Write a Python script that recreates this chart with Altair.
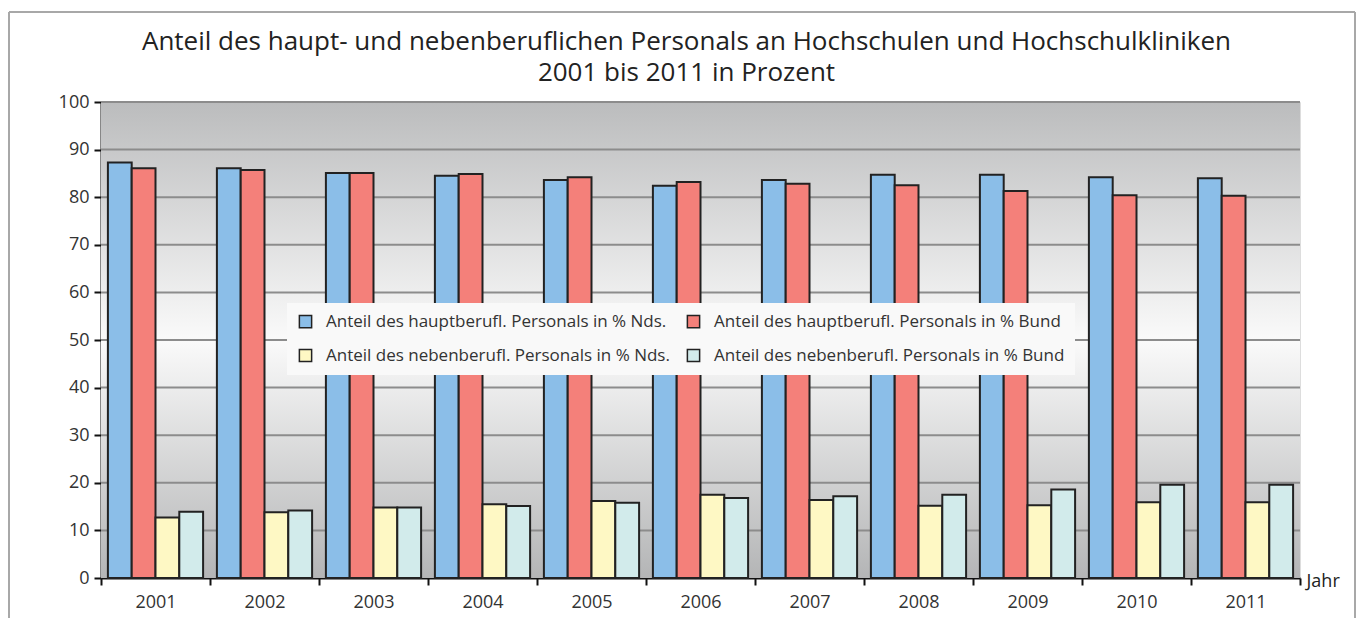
import altair as alt
import pandas as pd

years = ["2001", "2002", "2003", "2004", "2005", "2006", "2007", "2008", "2009", "2010", "2011"]
series = [
    "Anteil des hauptberufl. Personals in % Nds.",
    "Anteil des hauptberufl. Personals in % Bund",
    "Anteil des nebenberufl. Personals in % Nds.",
    "Anteil des nebenberufl. Personals in % Bund",
]
haupt_nds = [87.3, 86.1, 85.1, 84.5, 83.6, 82.4, 83.6, 84.7, 84.7, 84.2, 84.0]
haupt_bund = [86.1, 85.7, 85.1, 84.9, 84.2, 83.2, 82.8, 82.5, 81.3, 80.4, 80.3]
neben_nds = [12.7, 13.8, 14.8, 15.5, 16.2, 17.5, 16.4, 15.2, 15.3, 15.9, 15.9]
neben_bund = [13.9, 14.2, 14.8, 15.1, 15.8, 16.8, 17.2, 17.5, 18.6, 19.6, 19.6]
colors = ["#8bbee8", "#f4807a", "#fef8c4", "#d2ebeb"]
y_ticks = [10, 20, 30, 40, 50, 60, 70, 80, 90, 100]
title_lines = ["Anteil des haupt- und nebenberuflichen Personals an Hochschulen und Hochschulkliniken",
               "2001 bis 2011 in Prozent"]

values = [haupt_nds, haupt_bund, neben_nds, neben_bund]
rows = []
for s, vals in zip(series, values):
    for yr, v in zip(years, vals):
        rows.append({"Jahr": yr, "Serie": s, "Wert": v})
df = pd.DataFrame(rows)
grid_df = pd.DataFrame({"v": y_ticks})
one = pd.DataFrame({"a": [0]})
title1_df = pd.DataFrame({"t": [title_lines[0]]})
title2_df = pd.DataFrame({"t": [title_lines[1]]})

# legend is laid out column by column: order so rows read haupt / neben
legend_order = [series[0], series[2], series[1], series[3]]
legend_colors = [colors[0], colors[2], colors[1], colors[3]]

W, H = 1199, 476
FONT = "Open Sans"

yscale = alt.Scale(domain=[0, 100], nice=False, zero=True)
yaxis = alt.Axis(values=[0, 10, 20, 30, 40, 50, 60, 70, 80, 90, 100], grid=False,
                 domainColor="#111", domainWidth=2, tickColor="#111", tickWidth=2,
                 tickSize=7, labelPadding=5, labelFontSize=18, labelColor="#333",
                 labelFont=FONT, title=None)

bg = alt.Chart(one).mark_rect(
    fill=alt.Gradient(gradient="linear", x1=0, x2=0, y1=0, y2=1,
                      stops=[alt.GradientStop(offset=0, color="#bbbcbd"),
                             alt.GradientStop(offset=0.5, color="#fafafa"),
                             alt.GradientStop(offset=1, color="#b4b5b6")])
).encode(x=alt.value(0), x2=alt.value(W), y=alt.value(0), y2=alt.value(H))

grid = alt.Chart(grid_df).mark_rule(color="#8c8c8c", strokeWidth=2).encode(
    y=alt.Y("v:Q", scale=yscale, axis=yaxis),
    x=alt.value(0), x2=alt.value(W),
)

bars = alt.Chart(df).mark_bar(stroke="#222", strokeWidth=2, opacity=1).encode(
    x=alt.X("Jahr:N", sort=years,
            scale=alt.Scale(paddingInner=0, paddingOuter=0),
            axis=alt.Axis(tickBand="extent", labelAngle=0, domainColor="#111", domainWidth=2,
                          tickColor="#111", tickWidth=2, tickSize=7, labelPadding=8,
                          labelFontSize=18, labelColor="#333", labelFont=FONT,
                          title="Jahr", titleX=W + 6, titleY=3, titleAlign="left",
                          titleBaseline="middle", titleFontSize=18, titleFontWeight="normal",
                          titleFont=FONT, titleColor="#222")),
    xOffset=alt.XOffset("Serie:N", sort=series,
                        scale=alt.Scale(paddingOuter=0.29, paddingInner=0)),
    y=alt.Y("Wert:Q", scale=yscale, axis=yaxis),
    fill=alt.Fill("Serie:N", sort=legend_order,
                  scale=alt.Scale(domain=legend_order, range=legend_colors),
                  legend=alt.Legend(orient="none", legendX=186, legendY=201, columns=2,
                                    title=None, fillColor="#f9f9f9", padding=10,
                                    columnPadding=14, rowPadding=15,
                                    symbolType="square", symbolSize=150,
                                    symbolStrokeColor="#222", symbolStrokeWidth=1.5,
                                    labelFontSize=17, labelFont=FONT, labelColor="#333",
                                    labelOffset=12, labelLimit=600)),
)

title1 = alt.Chart(title1_df).mark_text(
    font=FONT, fontSize=26, color="#222", align="center", baseline="middle"
).encode(text="t:N", x=alt.value(W / 2 - 14), y=alt.value(-60))
title2 = alt.Chart(title2_df).mark_text(
    font=FONT, fontSize=26, color="#222", align="center", baseline="middle"
).encode(text="t:N", x=alt.value(W / 2 - 14), y=alt.value(-29))

frame_left = alt.Chart(one).mark_rule(color="#a8a8a8", strokeWidth=2).encode(
    x=alt.value(-92), y=alt.value(-90), y2=alt.value(H + 45))
frame_top = alt.Chart(one).mark_rule(color="#a8a8a8", strokeWidth=2).encode(
    x=alt.value(-92), x2=alt.value(W + 55), y=alt.value(-90))
frame_right = alt.Chart(one).mark_rule(color="#a8a8a8", strokeWidth=2).encode(
    x=alt.value(W + 55), y=alt.value(-90), y2=alt.value(H + 45))

chart = alt.layer(bg, grid, bars, title1, title2, frame_left, frame_top, frame_right).properties(
    width=W, height=H,
    autosize=alt.AutoSizeParams(type="none"),
    padding={"left": 93, "top": 94, "right": 57, "bottom": 40},
).configure_view(stroke=None).configure(background="white")

chart.save("out.html", embed_options={"renderer": "svg", "actions": False})
